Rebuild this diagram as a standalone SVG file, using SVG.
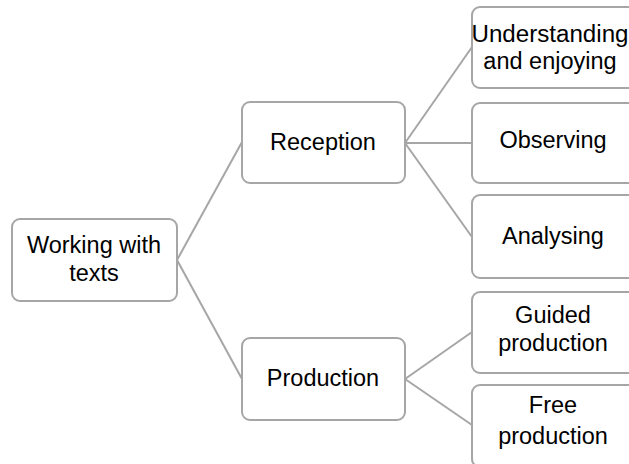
<svg xmlns="http://www.w3.org/2000/svg" width="629" height="464" viewBox="0 0 629 464">
<style>
.box{fill:#ffffff;stroke:#a6a6a6;stroke-width:2}
.lbl{font-family:"Liberation Sans",Arial,sans-serif;font-size:23.5px;fill:#000000;text-anchor:middle}
.conn{stroke:#a6a6a6;stroke-width:2;fill:none}
</style>
<rect width="629" height="464" fill="#ffffff"/>
<g id="connectors">
<line class="conn" x1="177" y1="260" x2="242" y2="142"/>
<line class="conn" x1="177" y1="260" x2="242" y2="379"/>
<line class="conn" x1="405" y1="143" x2="472" y2="47"/>
<line class="conn" x1="405" y1="143" x2="472" y2="143"/>
<line class="conn" x1="405" y1="143" x2="472" y2="237"/>
<line class="conn" x1="405" y1="379" x2="472" y2="332"/>
<line class="conn" x1="405" y1="379" x2="472" y2="425"/>
</g>
<g id="root">
<rect class="box" x="12" y="219" width="165" height="82" rx="8"/>
<text class="lbl" x="94" y="253">Working with</text>
<text class="lbl" x="94" y="281">texts</text>
</g>
<g id="reception">
<rect class="box" x="242" y="102" width="163" height="81" rx="8"/>
<text class="lbl" x="323" y="150">Reception</text>
</g>
<g id="production">
<rect class="box" x="242" y="338" width="163" height="82" rx="8"/>
<text class="lbl" x="323" y="386">Production</text>
</g>
<g id="understanding">
<rect class="box" x="472" y="7" width="164" height="81" rx="8"/>
<text class="lbl" x="550" y="42" textLength="157" lengthAdjust="spacingAndGlyphs">Understanding</text>
<text class="lbl" x="550" y="69">and enjoying</text>
</g>
<g id="observing">
<rect class="box" x="472" y="103" width="164" height="80" rx="8"/>
<text class="lbl" x="553" y="148">Observing</text>
</g>
<g id="analysing">
<rect class="box" x="472" y="195" width="164" height="83" rx="8"/>
<text class="lbl" x="553" y="244">Analysing</text>
</g>
<g id="guided">
<rect class="box" x="472" y="292" width="164" height="81" rx="8"/>
<text class="lbl" x="553" y="323">Guided</text>
<text class="lbl" x="553" y="351">production</text>
</g>
<g id="free">
<rect class="box" x="472" y="385" width="164" height="82" rx="8"/>
<text class="lbl" x="553" y="413">Free</text>
<text class="lbl" x="553" y="444">production</text>
</g>
</svg>
